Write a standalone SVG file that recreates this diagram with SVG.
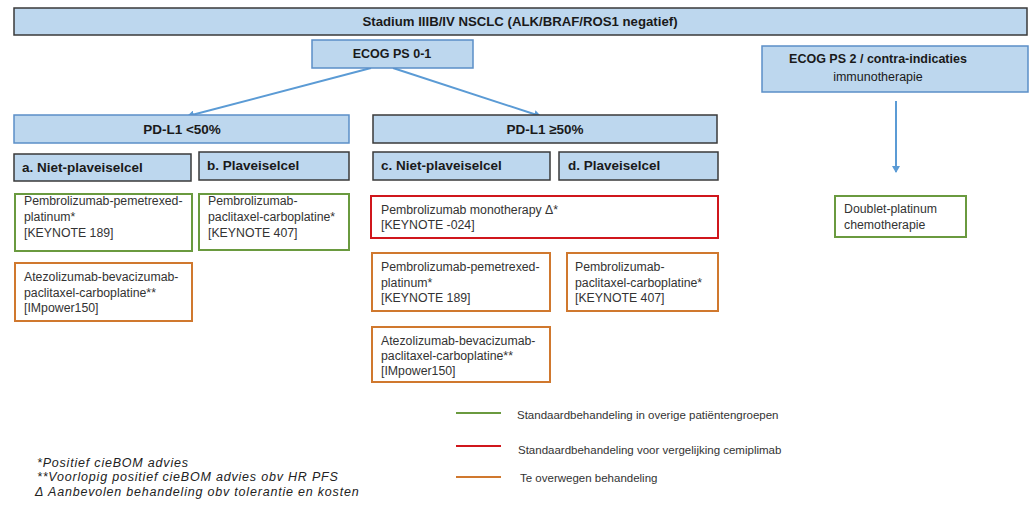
<svg xmlns="http://www.w3.org/2000/svg" width="1033" height="512" viewBox="0 0 1033 512">
<style>
.hdr{fill:#bdd7ee;stroke:#3a3a3a;stroke-width:1.5}
.hdrb{fill:#bdd7ee;stroke:#5b8fc7;stroke-width:1.5}
.ht{font-family:"Liberation Sans",Arial,sans-serif;font-weight:bold;font-size:12.5px;fill:#1a1a1a}
.hs{font-size:13.5px}
.bt{font-family:"Liberation Sans",Arial,sans-serif;font-size:12.3px;fill:#333}
.g{fill:#fff;stroke:#6a9a3f;stroke-width:2}
.r{fill:#fff;stroke:#d0161c;stroke-width:2}
.o{fill:#fff;stroke:#d0782e;stroke-width:2}
.lt{font-family:"Liberation Sans",Arial,sans-serif;font-size:11.5px;fill:#333}
.fn{font-family:"Liberation Sans",Arial,sans-serif;font-style:italic;font-size:12.5px;letter-spacing:0.8px;fill:#222}
.con{stroke:#5b9bd5;stroke-width:2;fill:none}
</style>
<defs>
<marker id="ah" markerWidth="8" markerHeight="8" refX="6" refY="4" orient="auto" markerUnits="userSpaceOnUse">
<path d="M0,0 L7,4 L0,8 Z" fill="#5b9bd5"/>
</marker>
</defs>
<rect width="1033" height="512" fill="#fff"/>

<g id="connectors">
<line class="con" x1="371" y1="68" x2="188" y2="116" marker-end="url(#ah)"/>
<line class="con" x1="393" y1="68" x2="540" y2="116" marker-end="url(#ah)"/>
<line class="con" x1="896" y1="101" x2="896" y2="172" marker-end="url(#ah)"/>
</g>

<g id="title">
<rect class="hdr" x="14" y="8" width="1013" height="27"/>
<text class="ht" x="520" y="26" text-anchor="middle" style="font-size:13.2px">Stadium IIIB/IV NSCLC (ALK/BRAF/ROS1 negatief)</text>
</g>

<g id="ecog01">
<rect class="hdrb" x="312" y="40" width="161" height="28"/>
<text class="ht" x="392" y="58" text-anchor="middle">ECOG PS 0-1</text>
</g>

<g id="ecog2">
<rect class="hdrb" x="762" y="46" width="266" height="46"/>
<text class="ht" x="878" y="63" text-anchor="middle">ECOG PS 2 / contra-indicaties</text>
<text class="ht" x="878" y="81" text-anchor="middle" style="font-weight:normal">immunotherapie</text>
</g>

<g id="pdl1-low">
<rect class="hdrb" x="14" y="115" width="335" height="28"/>
<text class="ht hs" x="182" y="134" text-anchor="middle">PD-L1 &lt;50%</text>
</g>

<g id="pdl1-high">
<rect class="hdr" x="373" y="115" width="344" height="28"/>
<text class="ht hs" x="545" y="134" text-anchor="middle">PD-L1 ≥50%</text>
</g>

<g id="a-niet">
<rect class="hdr" x="14" y="154" width="177" height="27"/>
<text class="ht hs" x="22" y="172">a. Niet-plaveiselcel</text>
</g>
<g id="b-plav">
<rect class="hdr" x="199" y="152" width="150" height="28"/>
<text class="ht hs" x="207" y="170">b. Plaveiselcel</text>
</g>
<g id="c-niet">
<rect class="hdr" x="373" y="152" width="177" height="28"/>
<text class="ht hs" x="381" y="170">c. Niet-plaveiselcel</text>
</g>
<g id="d-plav">
<rect class="hdr" x="559" y="152" width="159" height="28"/>
<text class="ht hs" x="568" y="170">d. Plaveiselcel</text>
</g>

<g id="a-pembro">
<rect class="g" x="15" y="194" width="177" height="57"/>
<text class="bt" x="24" y="205">Pembrolizumab-pemetrexed-</text>
<text class="bt" x="24" y="221">platinum*</text>
<text class="bt" x="24" y="237">[KEYNOTE 189]</text>
</g>
<g id="b-pembro">
<rect class="g" x="199" y="194" width="150" height="56"/>
<text class="bt" x="208" y="205">Pembrolizumab-</text>
<text class="bt" x="208" y="221">paclitaxel-carboplatine*</text>
<text class="bt" x="208" y="237">[KEYNOTE 407]</text>
</g>
<g id="a-atezo">
<rect class="o" x="15" y="263" width="177" height="58"/>
<text class="bt" x="24" y="281">Atezolizumab-bevacizumab-</text>
<text class="bt" x="24" y="297">paclitaxel-carboplatine**</text>
<text class="bt" x="24" y="312">[IMpower150]</text>
</g>

<g id="cd-mono">
<rect class="r" x="371" y="196" width="347" height="42"/>
<text class="bt" x="381" y="214">Pembrolizumab monotherapy Δ*</text>
<text class="bt" x="381" y="229">[KEYNOTE -024]</text>
</g>
<g id="c-pembro">
<rect class="o" x="372" y="253" width="178" height="58"/>
<text class="bt" x="381" y="271">Pembrolizumab-pemetrexed-</text>
<text class="bt" x="381" y="287">platinum*</text>
<text class="bt" x="381" y="302">[KEYNOTE 189]</text>
</g>
<g id="d-pembro">
<rect class="o" x="567" y="253" width="151" height="58"/>
<text class="bt" x="575" y="271">Pembrolizumab-</text>
<text class="bt" x="575" y="287">paclitaxel-carboplatine*</text>
<text class="bt" x="575" y="302">[KEYNOTE 407]</text>
</g>
<g id="c-atezo">
<rect class="o" x="372" y="327" width="178" height="55"/>
<text class="bt" x="381" y="345">Atezolizumab-bevacizumab-</text>
<text class="bt" x="381" y="360">paclitaxel-carboplatine**</text>
<text class="bt" x="381" y="375">[IMpower150]</text>
</g>

<g id="doublet">
<rect class="g" x="835" y="196" width="131" height="41"/>
<text class="bt" x="844" y="213">Doublet-platinum</text>
<text class="bt" x="844" y="229">chemotherapie</text>
</g>

<g id="legend">
<line x1="456" y1="413" x2="501" y2="413" stroke="#6a9a3f" stroke-width="2"/>
<text class="lt" x="517" y="419">Standaardbehandeling in overige patiëntengroepen</text>
<line x1="456" y1="446" x2="501" y2="446" stroke="#d0161c" stroke-width="2"/>
<text class="lt" x="518" y="454">Standaardbehandeling voor vergelijking cemiplimab</text>
<line x1="456" y1="477" x2="501" y2="477" stroke="#d0782e" stroke-width="2"/>
<text class="lt" x="520" y="482">Te overwegen behandeling</text>
</g>

<g id="footnotes">
<text class="fn" x="37" y="467">*Positief cieBOM advies</text>
<text class="fn" x="37" y="481">**Voorlopig positief cieBOM advies obv HR PFS</text>
<text class="fn" x="35" y="496">Δ Aanbevolen behandeling obv tolerantie en kosten</text>
</g>
</svg>
